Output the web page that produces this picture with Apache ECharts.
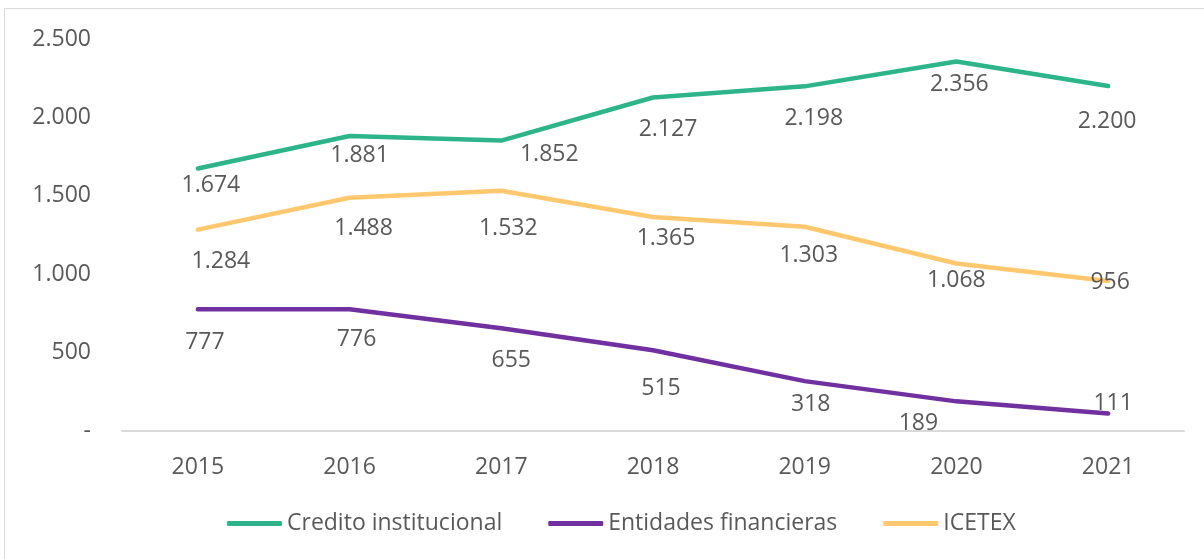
<!DOCTYPE html>
<html>
<head>
<meta charset="utf-8">
<script src="https://cdn.jsdelivr.net/npm/echarts@6/dist/echarts.min.js"></script>
<style>
  html, body { margin: 0; padding: 0; background: #fff; }
  #frame { position: absolute; left: 4px; top: 8px; width: 1220px; height: 580px;
           border: 1.5px solid #D9D9D9; box-sizing: border-box; }
  #chart { position: absolute; left: 0; top: 0; width: 1204px; height: 559px; }
</style>
</head>
<body>
<div id="frame"></div>
<div id="chart"></div>
<script>
// Years on the horizontal axis
const years = ['2015', '2016', '2017', '2018', '2019', '2020', '2021'];

// Values per funding source
const creditoInstitucional = [1674, 1881, 1852, 2127, 2198, 2356, 2200];
const entidadesFinancieras = [777, 776, 655, 515, 318, 189, 111];
const icetex = [1284, 1488, 1532, 1365, 1303, 1068, 956];

// Y-axis ticks
const yTicks = [0, 500, 1000, 1500, 2000, 2500];

// Label nudges [dx, dy] in pixels, relative to each point (keeps labels clear of the lines)
const creditoLabelShift = [[13, 17], [10, 19], [48, 14], [15, 32], [9, 32], [3, 23], [-1, 35]];
const entidadesLabelShift = [[7, 33], [7, 30], [10, 32], [8, 38], [6, 23], [-38, 22], [5, -10]];
const icetexLabelShift = [[23, 32], [14, 31], [7, 38], [13, 21], [4, 29], [0, 17], [2, 1]];

const FONT = '"Open Sans", "Liberation Sans", sans-serif';
const TEXT = '#595959';

function fmt(v) {
  if (v === 0) return '-';
  return String(v).replace(/\B(?=(\d{3})+(?!\d))/g, '.');
}

function buildData(values, shifts) {
  return values.map((v, i) => ({
    value: v,
    label: { offset: shifts[i] }
  }));
}

function lineSeries(name, values, shifts, color) {
  return {
    name: name,
    type: 'line',
    data: buildData(values, shifts),
    symbol: 'circle',
    symbolSize: 0,
    showSymbol: true,
    itemStyle: { color: color },
    lineStyle: { color: color, width: 4.5, cap: 'round', join: 'round' },
    label: {
      show: true,
      position: 'inside',
      formatter: p => fmt(p.value),
      color: TEXT,
      fontFamily: FONT,
      fontSize: 23
    },
    emphasis: { disabled: true },
    animation: false
  };
}

const chart = echarts.init(document.getElementById('chart'), null, { renderer: 'canvas' });
chart.setOption({
  backgroundColor: 'transparent',
  animation: false,
  grid: { left: 122, right: 20, top: 39, bottom: 128, containLabel: false },
  legend: {
    bottom: 19,
    left: 222,
    icon: 'roundRect',
    itemWidth: 55,
    itemHeight: 5,
    itemGap: 46,
    textStyle: { color: TEXT, fontFamily: FONT, fontSize: 23 },
    data: ['Credito institucional', 'Entidades financieras', 'ICETEX']
  },
  xAxis: {
    type: 'category',
    data: years,
    boundaryGap: true,
    axisLine: { show: true, lineStyle: { color: '#D9D9D9', width: 2 } },
    axisTick: { show: false },
    axisLabel: { color: TEXT, fontFamily: FONT, fontSize: 23, margin: 25 }
  },
  yAxis: {
    type: 'value',
    min: yTicks[0],
    max: yTicks[yTicks.length - 1],
    interval: yTicks[1] - yTicks[0],
    splitLine: { show: false },
    axisLine: { show: false },
    axisTick: { show: false },
    axisLabel: { color: TEXT, fontFamily: FONT, fontSize: 23, margin: 31, formatter: v => fmt(v) }
  },
  series: [
    lineSeries('Credito institucional', creditoInstitucional, creditoLabelShift, '#2DB48A'),
    lineSeries('Entidades financieras', entidadesFinancieras, entidadesLabelShift, '#7030A0'),
    lineSeries('ICETEX', icetex, icetexLabelShift, '#FFC86E')
  ]
});
</script>
</body>
</html>
